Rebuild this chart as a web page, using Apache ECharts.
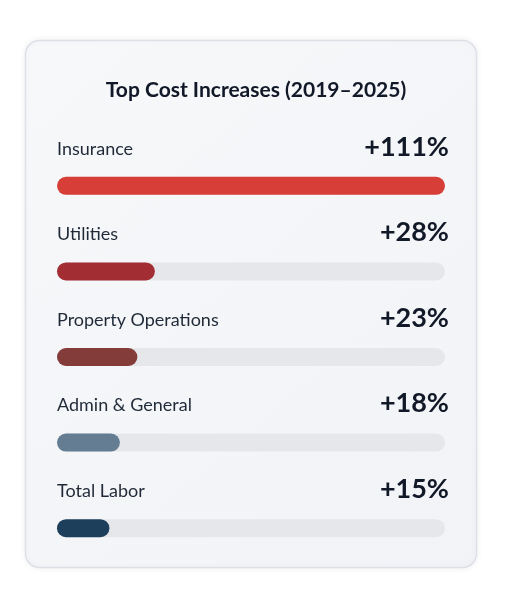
<!DOCTYPE html>
<html><head><meta charset="utf-8">
<script src="https://cdn.jsdelivr.net/npm/echarts@6/dist/echarts.min.js"></script>
<style>html,body{margin:0;background:#fff}#c{width:512px;height:598px}</style>
</head><body><div id="c"></div>
<script>
const categories = ['Insurance','Utilities','Property Operations','Admin & General','Total Labor'];
const values = [111, 28, 23, 18, 15];
const valueLabels = ['+111%','+28%','+23%','+18%','+15%'];
const colors = ['#d63e37','#a22d33','#843c3b','#657d93','#1d3f5b'];
const chart = echarts.init(document.getElementById('c'));
chart.setOption({
  backgroundColor:'#fff',
  graphic:[{type:'rect',shape:{x:25.5,y:40.5,width:451,height:527,r:14},z:-10,
    style:{fill:{type:'linear',x:0,y:0,x2:1,y2:1,colorStops:[{offset:0,color:'#f7f8fa'},{offset:1,color:'#f1f3f6'}]},stroke:'#dde1e7',lineWidth:1.5,
    shadowColor:'rgba(0,0,0,0.06)',shadowBlur:6}}],
  title:{text:'Top Cost Increases (2019–2025)',left:251,textAlign:'center',top:75,
    textStyle:{fontFamily:'Lato',fontWeight:'bold',fontSize:21,color:'#111827'}},
  grid:{left:57,right:67,top:143,bottom:27},
  xAxis:{type:'value',min:0,max:111,show:false},
  yAxis:{type:'category',data:categories,inverse:true,show:false},
  series:[
    {type:'bar',data:values.map(()=>111),barWidth:18,barGap:'-100%',silent:true,
     itemStyle:{color:'#e5e7eb',borderRadius:9},
     label:{show:true,position:'insideLeft',distance:0,offset:[0,-39],
       formatter:p=>'{a|'+categories[p.dataIndex]+'}{b|'+valueLabels[p.dataIndex]+'}',
       rich:{a:{width:196,align:'left',fontFamily:'Lato',fontSize:18,color:'#1f2937',padding:[4,0,0,0]},
             b:{width:196,align:'right',fontFamily:'Lato',fontSize:27,fontWeight:'bold',color:'#111827'}}}},
    {type:'bar',data:values.map((v,i)=>({value:v,itemStyle:{color:colors[i]}})),barWidth:18,
     itemStyle:{borderRadius:9}}
  ]
});
</script></body></html>
